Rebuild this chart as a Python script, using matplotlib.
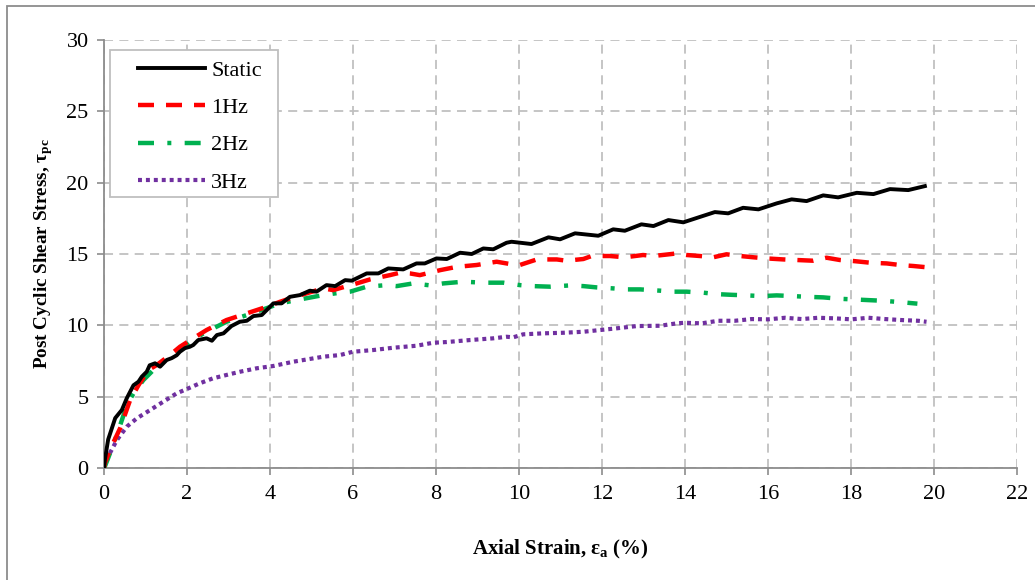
import matplotlib
matplotlib.use("Agg")
import matplotlib.pyplot as plt
from matplotlib.patches import Rectangle

plt.rcParams["font.family"] = ["Liberation Serif", "DejaVu Serif"]
plt.rcParams["mathtext.fontset"] = "custom"
plt.rcParams["mathtext.rm"] = "Liberation Serif"
plt.rcParams["mathtext.bf"] = "Liberation Serif:bold"
plt.rcParams["mathtext.it"] = "Liberation Serif:italic"

# data
static_x = [0, 0.02, 0.1, 0.27, 0.43, 0.55, 0.71, 0.83, 0.91, 1.03, 1.1, 1.23, 1.35,
            1.51, 1.63, 1.75, 1.83, 1.95, 2.07, 2.15, 2.27, 2.47, 2.6, 2.72, 2.88,
            3.07, 3.27, 3.44, 3.6, 3.8, 3.92, 4.08, 4.28, 4.48, 4.72, 4.96, 5.12,
            5.36, 5.57, 5.81, 5.97, 6.33, 6.61, 6.85, 7.21, 7.53, 7.73, 8.01, 8.26,
            8.58, 8.86, 9.14, 9.38, 9.7, 9.82, 10.3, 10.71, 10.99, 11.35, 11.91,
            12.27, 12.55, 12.95, 13.24, 13.6, 13.96, 14.36, 14.72, 15.04, 15.4,
            15.77, 16.21, 16.57, 16.93, 17.33, 17.69, 18.14, 18.54, 18.94, 19.38, 19.78]
static_y = [0, 0.56, 2.0, 3.5, 4.07, 4.9, 5.8, 6.05, 6.4, 6.75, 7.2, 7.34, 7.1,
            7.57, 7.7, 7.9, 8.15, 8.4, 8.5, 8.62, 8.97, 9.09, 8.92, 9.32, 9.44,
            9.95, 10.25, 10.32, 10.65, 10.72, 11.07, 11.54, 11.54, 12.0, 12.12, 12.43, 12.36,
            12.82, 12.75, 13.17, 13.13, 13.64, 13.64, 13.99, 13.92, 14.34, 14.34, 14.69, 14.65,
            15.09, 15.0, 15.39, 15.33, 15.79, 15.86, 15.7, 16.17, 16.03, 16.45, 16.28,
            16.73, 16.63, 17.08, 16.96, 17.38, 17.22, 17.6, 17.94, 17.85, 18.24,
            18.13, 18.55, 18.83, 18.71, 19.11, 18.97, 19.29, 19.2, 19.55, 19.48, 19.76]

hz1_x = [0, 0.02, 0.18, 0.39, 0.63, 0.83, 1.07, 1.27, 1.59, 1.83, 2.15, 2.47, 2.95,
         3.44, 3.92, 4.24, 4.6, 5.28, 5.52, 6.09, 6.41, 6.89, 7.13, 7.37, 7.61, 8.1,
         8.5, 8.98, 9.46, 9.78, 10.02, 10.43, 10.91, 11.14, 11.55, 11.75, 12.19,
         12.55, 12.99, 13.24, 13.8, 14.04, 14.36, 14.68, 15.0, 15.33, 15.65, 15.97,
         16.37, 16.69, 17.09, 17.41, 17.73, 18.05, 18.46, 18.86, 19.18, 19.5, 19.86]
hz1_y = [0, 0.35, 1.5, 2.8, 4.77, 5.8, 6.87, 7.22, 7.92, 8.5, 9.09, 9.67, 10.37,
         10.84, 11.3, 11.65, 12.0, 12.59, 12.47, 12.94, 13.22, 13.52, 13.69, 13.64, 13.52, 13.87,
         14.1, 14.23, 14.46, 14.3, 14.23, 14.62, 14.62, 14.53, 14.65, 14.86, 14.86,
         14.77, 14.93, 14.86, 15.04, 14.93, 14.86, 14.77, 14.98, 14.86, 14.77, 14.69,
         14.62, 14.58, 14.53, 14.74, 14.58, 14.51, 14.39, 14.34, 14.23, 14.16, 14.06]

hz2_x = [0, 0.02, 0.22, 0.35, 0.55, 0.71, 0.95, 1.27, 1.59, 1.99, 2.15, 2.47, 2.95,
         3.44, 3.84, 4.24, 4.64, 5.28, 5.69, 5.93, 6.33, 6.81, 7.05, 7.45, 7.86, 8.18,
         8.66, 9.14, 9.62, 10.02, 10.34, 10.75, 11.23, 11.55, 11.87, 12.27, 12.6,
         12.92, 13.4, 13.72, 14.04, 14.44, 14.76, 15.12, 15.49, 15.85, 16.21, 16.61,
         16.93, 17.33, 17.73, 18.05, 18.41, 18.78, 19.18, 19.6]
hz2_y = [0, 0.1, 1.6, 2.66, 4.4, 5.23, 6.17, 7.1, 7.92, 8.62, 9.02, 9.55, 10.25,
         10.72, 11.12, 11.54, 11.77, 12.12, 12.29, 12.36, 12.71, 12.82, 12.75, 12.94, 12.8, 12.94,
         13.06, 12.99, 12.99, 12.82, 12.75, 12.71, 12.8, 12.75, 12.66, 12.59, 12.52,
         12.52, 12.43, 12.36, 12.36, 12.29, 12.19, 12.14, 12.1, 12.05, 12.1, 12.05,
         12.0, 11.96, 11.86, 11.82, 11.77, 11.72, 11.63, 11.52]

hz3_x = [0, 0.02, 0.14, 0.31, 0.55, 0.79, 1.11, 1.43, 1.75, 2.03, 2.31, 2.63, 2.95,
         3.28, 3.68, 4.08, 4.56, 5.28, 5.69, 6.0, 6.49, 6.97, 7.53, 7.93, 8.26, 8.82,
         9.38, 9.7, 9.86, 10.1, 10.59, 11.07, 11.55, 11.95, 12.35, 12.84, 13.4, 13.8,
         14.0, 14.4, 14.8, 15.2, 15.61, 16.0, 16.41, 16.81, 17.21, 17.61, 18.01,
         18.42, 18.82, 19.22, 19.62, 19.82]
hz3_y = [0, 0.2, 1.03, 1.96, 2.9, 3.48, 4.06, 4.65, 5.23, 5.58, 5.94, 6.29, 6.52,
         6.75, 6.99, 7.15, 7.45, 7.8, 7.92, 8.15, 8.27, 8.43, 8.57, 8.78, 8.83, 8.97,
         9.09, 9.2, 9.16, 9.37, 9.44, 9.48, 9.55, 9.67, 9.79, 9.95, 9.97, 10.14,
         10.18, 10.14, 10.32, 10.32, 10.44, 10.42, 10.53, 10.44, 10.53, 10.49, 10.42,
         10.53, 10.44, 10.37, 10.32, 10.25]

x_ticks = list(range(0, 23, 2))
y_ticks = list(range(0, 31, 5))

fig = plt.figure(figsize=(10.35, 5.8), dpi=100)
ax = fig.add_axes([0.1005, 0.1931, 0.8821, 0.7379])

ax.plot(static_x, static_y, color="black", lw=2.8, label="Static", zorder=5)
ax.plot(hz1_x, hz1_y, color="#FF0000", lw=3.2, dashes=(3.6, 2.7), label="1Hz", zorder=4)
ax.plot(hz2_x, hz2_y, color="#00B050", lw=3.2, dashes=(3.6, 3.0, 0.9, 3.0), label="2Hz", zorder=3)
ax.plot(hz3_x, hz3_y, color="#7030A0", lw=3.0, dashes=(0.95, 0.95), label="3Hz", zorder=2)

ax.set_xlim(0, 22)
ax.set_ylim(0, 30)
ax.set_xticks(x_ticks)
ax.set_yticks(y_ticks)
ax.tick_params(labelsize=16, color="#8c8c8c", length=5, width=1.2, direction="out")
ax.tick_params(axis="x", pad=7)
ax.tick_params(axis="y", pad=6)

ax.grid(True, color="#c0c0c0", lw=1.3, dashes=(5, 3.5))
ax.set_axisbelow(True)
for s in ["top", "right"]:
    ax.spines[s].set_visible(False)
for s in ["left", "bottom"]:
    ax.spines[s].set_color("#8c8c8c")
    ax.spines[s].set_linewidth(1.3)

ax.set_xlabel(r"Axial Strain, ε$_{\mathbf{a}}$ (%)", fontsize=15, fontweight="bold", labelpad=25)
ax.set_ylabel(r"Post Cyclic Shear Stress, τ$_{\mathbf{pc}}$", fontsize=13.8, fontweight="bold", labelpad=8)

# legend box drawn separately so its padding can match
ax.add_patch(Rectangle((0.0066, 0.633), 0.184, 0.3435, transform=ax.transAxes,
                       facecolor="white", edgecolor="#bfbfbf", lw=1.3, zorder=9))
leg = ax.legend(loc="upper left", bbox_to_anchor=(0.0372, 0.9523), borderaxespad=0,
                fontsize=16, handlelength=3.0, handletextpad=0.3, labelspacing=0.75,
                borderpad=0, frameon=False)
leg.set_zorder(10)

# outer chart frame
fig.add_artist(Rectangle((7 / 1035, -0.1), 1.2, 1.1 - 6 / 580, transform=fig.transFigure,
                         fill=False, ec="#8c8c8c", lw=1.3))

fig.savefig("out.png", dpi=100)
